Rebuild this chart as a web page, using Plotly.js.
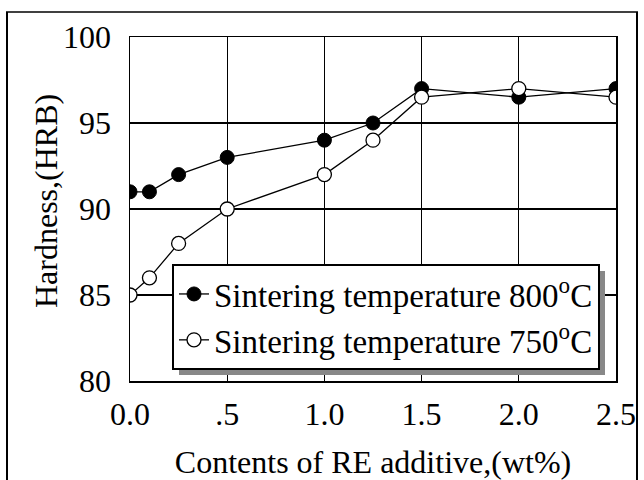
<!DOCTYPE html>
<html>
<head>
<meta charset="utf-8">
<script src="https://cdn.plot.ly/plotly-3.0.1.min.js"></script>
<style>
  html, body { margin: 0; padding: 0; background: #fff; }
  #chart { width: 644px; height: 480px; }
</style>
</head>
<body>
<div id="chart"></div>
<script>
// Data
const reContent = [0, 0.1, 0.25, 0.5, 1.0, 1.25, 1.5, 2.0, 2.5];
const hardness800 = [91, 91, 92, 93, 94, 95, 97, 96.5, 97];
const hardness750 = [85, 86, 88, 90, 92, 94, 96.5, 97, 96.5];
const xTickVals = [0, 0.5, 1.0, 1.5, 2.0, 2.5];
const xTickText = ['0.0', '.5', '1.0', '1.5', '2.0', '2.5'];
const yTickVals = [80, 85, 90, 95, 100];
const seriesNames = ['Sintering temperature 800<sup>o</sup>C', 'Sintering temperature 750<sup>o</sup>C'];
const xTitle = 'Contents of RE additive,(wt%)';
const yTitle = 'Hardness,(HRB)';

const FONT = '"Liberation Serif", "Times New Roman", serif';

const traces = [
  {
    x: reContent, y: hardness800, name: seriesNames[0],
    mode: 'lines+markers', type: 'scatter',
    line: { color: '#000', width: 1.3 },
    marker: { symbol: 'circle', size: 14, color: '#000', line: { color: '#000', width: 1 } }
  },
  {
    x: reContent, y: hardness750, name: seriesNames[1],
    mode: 'lines+markers', type: 'scatter',
    line: { color: '#000', width: 1.3 },
    marker: { symbol: 'circle', size: 14, color: '#fff', line: { color: '#000', width: 1.3 } }
  }
];

const L = 130, T = 37, W = 486, H = 344;
function px2paperX(px) { return (px - L) / W; }
function px2paperY(py) { return (T + H - py) / H; }

const frameShapes = [
  { type: 'line', xref: 'paper', yref: 'paper', x0: px2paperX(7), x1: px2paperX(7), y0: px2paperY(12), y1: px2paperY(500), line: { color: '#000', width: 2 } },
  { type: 'line', xref: 'paper', yref: 'paper', x0: px2paperX(637), x1: px2paperX(637), y0: px2paperY(12), y1: px2paperY(500), line: { color: '#000', width: 2 } },
  { type: 'line', xref: 'paper', yref: 'paper', x0: px2paperX(6), x1: px2paperX(638), y0: px2paperY(12), y1: px2paperY(12), line: { color: '#000', width: 1.5 } }
];

const layout = {
  width: 644, height: 480,
  margin: { l: L, r: 644 - L - W, t: T, b: 480 - T - H, pad: 0 },
  paper_bgcolor: '#fff', plot_bgcolor: '#fff',
  font: { family: FONT, size: 32, color: '#000' },
  showlegend: true,
  legend: {
    x: px2paperX(172), y: px2paperY(264), xanchor: 'left', yanchor: 'top',
    bgcolor: '#fff', bordercolor: '#000', borderwidth: 2,
    font: { family: FONT, size: 33, color: '#000' },
    tracegroupgap: 0, itemwidth: 30
  },
  xaxis: {
    range: [0, 2.5], tickvals: xTickVals, ticktext: xTickText,
    showgrid: true, gridcolor: '#000', gridwidth: 1.3,
    showline: true, linecolor: '#000', linewidth: 1.5, mirror: true,
    zeroline: false, ticks: '', ticklabelstandoff: 4,
    tickfont: { family: FONT, size: 32, color: '#000' },
    title: { text: xTitle, font: { family: FONT, size: 32, color: '#000' }, standoff: 20 },
    automargin: false
  },
  yaxis: {
    range: [80, 100], tickvals: yTickVals,
    showgrid: true, gridcolor: '#000', gridwidth: 1.3,
    showline: true, linecolor: '#000', linewidth: 1.5, mirror: true,
    zeroline: false, ticks: '', ticklabelstandoff: 11,
    tickfont: { family: FONT, size: 32, color: '#000' },
    automargin: false
  },
  annotations: [
    {
      text: yTitle, textangle: -90, showarrow: false,
      xref: 'paper', yref: 'paper', x: px2paperX(46), y: px2paperY(201),
      xanchor: 'center', yanchor: 'middle',
      font: { family: FONT, size: 32, color: '#000' }
    }
  ],
  shapes: frameShapes
};

const gd = document.getElementById('chart');
Plotly.newPlot(gd, traces, layout, { displayModeBar: false, staticPlot: true }).then(function () {
  const bg = gd.querySelector('.legend rect.bg');
  if (!bg) return;
  const r = bg.getBoundingClientRect();
  const g = gd.getBoundingClientRect();
  const x0 = r.left - g.left, y0 = r.top - g.top, x1 = r.right - g.left, y1 = r.bottom - g.top;
  const off = 6;
  const shadow = {
    type: 'rect', xref: 'paper', yref: 'paper', layer: 'above',
    x0: px2paperX(x0 + off), x1: px2paperX(x1 + off),
    y0: px2paperY(y1 + off), y1: px2paperY(y0 + off),
    fillcolor: '#888', line: { width: 0 }
  };
  return Plotly.relayout(gd, { shapes: frameShapes.concat([shadow]) });
});
</script>
</body>
</html>
